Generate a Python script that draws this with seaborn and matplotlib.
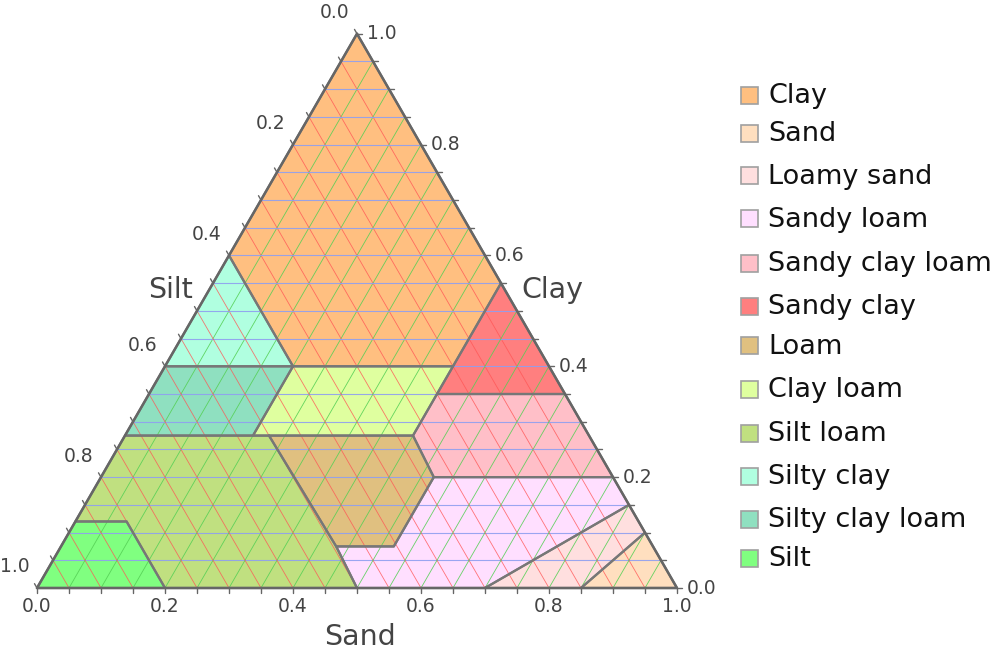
import matplotlib
matplotlib.use("Agg")
import matplotlib.pyplot as plt
import seaborn as sns
import numpy as np

sns.set_style("white")
plt.rcParams['font.family'] = ['DejaVu Sans']

# soil regions, vertices as (sand, silt, clay) fractions
clay = [(0.00, 0.00, 1.00), (0.45, 0.00, 0.55), (0.45, 0.15, 0.40), (0.20, 0.40, 0.40), (0.00, 0.40, 0.60)]
sand = [(0.85, 0.15, 0.00), (1.00, 0.00, 0.00), (0.90, 0.00, 0.10)]
loamy_sand = [(0.70, 0.30, 0.00), (0.85, 0.15, 0.00), (0.90, 0.00, 0.10), (0.85, 0.00, 0.15)]
sandy_loam = [(0.50, 0.50, 0.00), (0.70, 0.30, 0.00), (0.85, 0.00, 0.15), (0.80, 0.00, 0.20),
              (0.52, 0.28, 0.20), (0.52, 0.405, 0.075), (0.43, 0.495, 0.075)]
sandy_clay_loam = [(0.45, 0.20, 0.35), (0.65, 0.00, 0.35), (0.80, 0.00, 0.20), (0.52, 0.28, 0.20), (0.45, 0.275, 0.275)]
sandy_clay = [(0.45, 0.00, 0.55), (0.65, 0.00, 0.35), (0.45, 0.20, 0.35), (0.45, 0.15, 0.40)]
loam = [(0.225, 0.50, 0.275), (0.45, 0.275, 0.275), (0.52, 0.28, 0.20), (0.52, 0.405, 0.075), (0.43, 0.495, 0.075)]
clay_loam = [(0.20, 0.40, 0.40), (0.45, 0.15, 0.40), (0.45, 0.275, 0.275), (0.20, 0.525, 0.275)]
silt_loam = [(0.00, 0.725, 0.275), (0.225, 0.50, 0.275), (0.43, 0.495, 0.075), (0.50, 0.50, 0.00),
             (0.20, 0.80, 0.00), (0.08, 0.80, 0.12), (0.00, 0.88, 0.12)]
silty_clay = [(0.00, 0.40, 0.60), (0.20, 0.40, 0.40), (0.00, 0.60, 0.40)]
silty_clay_loam = [(0.00, 0.60, 0.40), (0.20, 0.40, 0.40), (0.20, 0.525, 0.275), (0.00, 0.725, 0.275)]
silt = [(0.00, 1.00, 0.00), (0.20, 0.80, 0.00), (0.08, 0.80, 0.12), (0.00, 0.88, 0.12)]

region_names = ["Clay", "Sand", "Loamy sand", "Sandy loam", "Sandy clay loam", "Sandy clay",
                "Loam", "Clay loam", "Silt loam", "Silty clay", "Silty clay loam", "Silt"]
regions = [clay, sand, loamy_sand, sandy_loam, sandy_clay_loam, sandy_clay,
           loam, clay_loam, silt_loam, silty_clay, silty_clay_loam, silt]
region_colors = ["#FFBF80", "#FFDFBF", "#FFDFDF", "#FFDFFF", "#FFBFC8", "#FF7F7F",
                 "#E0C080", "#DFFF9F", "#C0E080", "#B0FFE0", "#8FE0C0", "#80FF80"]

grid_steps = np.arange(0.05, 1.0, 0.05)
tick_labels = ["0.0", "0.2", "0.4", "0.6", "0.8", "1.0"]
tick_values = [0.0, 0.2, 0.4, 0.6, 0.8, 1.0]

H = np.sqrt(3) / 2
PX = 1 / 640  # one pixel in data units


def to_xy(sand_v, silt_v, clay_v):
    return sand_v + clay_v / 2, clay_v * H


fig = plt.figure(figsize=(9.96, 6.54), dpi=100)
ax = fig.add_axes([0, 0, 1, 1])
ax.set_xlim(-37 * PX, 959 * PX)
ax.set_ylim(-66 * PX, 588 * PX)
ax.axis("off")

# filled regions
for pts, col in zip(regions, region_colors):
    xy = [to_xy(*p) for p in pts]
    ax.fill([p[0] for p in xy], [p[1] for p in xy], color=col, lw=0, zorder=1)

# grid
for g in grid_steps:
    # constant clay
    x0, y0 = to_xy(1 - g, 0, g)
    x1, y1 = to_xy(0, 1 - g, g)
    ax.plot([x0, x1], [y0, y1], color="#8F9FF0", lw=0.8, alpha=0.9, zorder=2)
    # constant sand
    x0, y0 = to_xy(g, 0, 1 - g)
    x1, y1 = to_xy(g, 1 - g, 0)
    ax.plot([x0, x1], [y0, y1], color="#55D055", lw=0.6, alpha=0.9, zorder=2)
    # constant silt
    x0, y0 = to_xy(1 - g, g, 0)
    x1, y1 = to_xy(0, g, 1 - g)
    ax.plot([x0, x1], [y0, y1], color="#FF5555", lw=0.6, alpha=0.8, zorder=2)

# region borders
for pts in regions:
    xy = [to_xy(*p) for p in pts] + [to_xy(*pts[0])]
    ax.plot([p[0] for p in xy], [p[1] for p in xy], color="#777777", lw=1.6, zorder=3,
            solid_joinstyle="round")

# triangle frame
ax.plot([0, 1, 0.5, 0], [0, 0, H, 0], color="#666666", lw=1.8, zorder=4, solid_joinstyle="round")

# ticks
tl = 5 * PX
for g in np.arange(0, 1.0001, 0.05):
    x, y = to_xy(g, 1 - g, 0)
    ax.plot([x, x], [y, y - tl], color="#666666", lw=1, zorder=4)
    x, y = to_xy(1 - g, 0, g)
    ax.plot([x, x + tl], [y, y], color="#666666", lw=1, zorder=4)
    x, y = to_xy(0, g, 1 - g)
    ax.plot([x, x - tl * 0.5], [y, y + tl * H], color="#666666", lw=1, zorder=4)

for v, lab in zip(tick_values, tick_labels):
    x, y = to_xy(v, 1 - v, 0)
    ax.text(x, y - 18 * PX, lab, ha="center", va="center", fontsize=13.5, color="#444444")
    x, y = to_xy(1 - v, 0, v)
    ax.text(x + 10 * PX, y, lab, ha="left", va="center", fontsize=13.5, color="#444444")
    x, y = to_xy(0, v, 1 - v)
    ax.text(x - 22 * PX, y + 21 * PX, lab, ha="center", va="center", fontsize=13.5, color="#444444")

ax.text(0.5 + 3 * PX, -49 * PX, "Sand", ha="center", va="center", fontsize=20.5, color="#444444")
ax.text((170 - 37) * PX, (588 - 290) * PX, "Silt", ha="center", va="center", fontsize=20.5, color="#444444")
ax.text((552 - 37) * PX, (588 - 290) * PX, "Clay", ha="center", va="center", fontsize=20.5, color="#444444")

# legend
legend_y = [93, 131, 174, 217, 261, 304, 344, 387, 431, 474, 517, 556]
for name, col, ly in zip(region_names, region_colors, legend_y):
    fig.patches.append(plt.Rectangle((741 / 996, 1 - (ly + 10.5) / 654), 17 / 996, 17 / 654,
                                     transform=fig.transFigure, facecolor=col,
                                     edgecolor="#A0A0A0", lw=1.2))
    fig.text(768 / 996, 1 - (ly + 10) / 654, name, ha="left", va="baseline", fontsize=19.5,
             color="#111111")

fig.savefig("out.png", dpi=100)
